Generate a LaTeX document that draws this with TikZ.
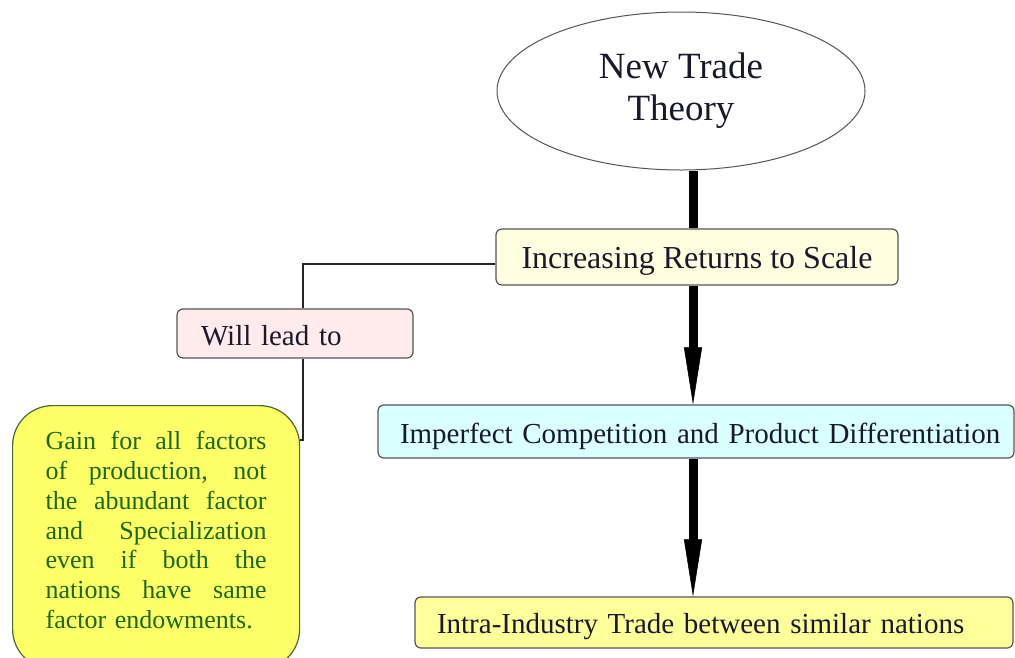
\documentclass[tikz,border=0pt]{standalone}
\usepackage{fontspec}
\setmainfont{Liberation Serif}
\usetikzlibrary{shapes.geometric,arrows.meta,calc}
\definecolor{incfill}{RGB}{255,255,224}
\definecolor{impfill}{RGB}{217,255,255}
\definecolor{willfill}{RGB}{255,235,235}
\definecolor{intrafill}{RGB}{255,255,153}
\definecolor{gainfill}{RGB}{255,255,102}
\definecolor{gaintext}{RGB}{25,105,25}
\definecolor{gainborder}{RGB}{75,105,55}
\definecolor{edge}{RGB}{85,85,85}
\definecolor{ink}{RGB}{25,25,45}
\newcommand\jl[1]{\leavevmode\hbox to 221pt{\spaceskip=0pt\xspaceskip=0pt\relax #1}}
\begin{document}
\begin{tikzpicture}[x=1pt,y=-1pt,
  ell/.style={ellipse,draw=edge,line width=1pt,fill=white,inner sep=0pt,
    minimum width=368pt,minimum height=158pt,align=center,text=ink,
    font=\fontsize{37}{42}\selectfont},
  boxbase/.style={rectangle,rounded corners=6pt,draw=edge,line width=1.2pt,
    text=ink,text depth=0pt},
  leftbox/.style={boxbase,align=left,inner xsep=22pt,inner ysep=0pt},
  gainbox/.style={rectangle,rounded corners=40pt,draw=gainborder,line width=1.2pt,
    fill=gainfill,text=gaintext,text width=221pt,align=left,inner xsep=33pt,
    inner ysep=26pt,font=\fontsize{26}{29.7}\selectfont},
  thick/.style={line width=9pt,draw=black},
  thickarrow/.style={thick,-{Triangle[length=57pt,width=18pt,line width=0.5pt]}},
  thin/.style={line width=1.3pt,draw=black!85}
]
\useasboundingbox (0,0) rectangle (1015,657);
\clip (0,0) rectangle (1015,657);
\fill[white] (0,0) rectangle (1015,657);

\coordinate (xl) at (693,0);
\coordinate (xv) at (303,0);

% nodes
\node[ell] (ntt) at (681,91) {New Trade\\Theory};
\node[boxbase,fill=incfill,minimum width=402pt,minimum height=56pt,inner sep=0pt,
  text height=22pt,font=\fontsize{32}{38}\selectfont] (inc) at (697,257)
  {Increasing Returns to Scale};
\node[leftbox,fill=willfill,text width=188pt,inner xsep=24pt,minimum height=49pt,
  text height=23pt,font=\fontsize{29}{34}\selectfont] (will) at (295,333.5) {Will lead to};
\node[leftbox,fill=impfill,text width=592pt,minimum height=53pt,
  text height=23pt,font=\fontsize{29}{34}\selectfont] (imp) at (696,431.5)
  {\mbox{Imperfect Competition and Product Differentiation}};
\node[leftbox,fill=intrafill,text width=554pt,minimum height=51pt,
  text height=21pt,font=\fontsize{29}{34}\selectfont] (intra) at (714,622.5)
  {\mbox{Intra-Industry Trade between similar nations}};
\node[gainbox,anchor=north west] (gain) at (12,405)
  {\jl{Gain for all factors}\\
   \jl{of production, not}\\
   \jl{the abundant factor}\\
   \jl{and Specialization}\\
   \jl{even if both the}\\
   \jl{nations have same}\\
   factor endowments.\rule[-15pt]{0pt}{1pt}};

% thick connectors
\draw[thick] (ntt.south -| xl) -- (inc.north -| xl);
\draw[thickarrow] (inc.south -| xl) -- (imp.north -| xl);
\draw[thickarrow] (imp.south -| xl) -- (intra.north -| xl);

% thin elbow connectors
\draw[thin] ([yshift=-7pt]inc.west) -| (will.north -| xv);
\draw[thin] (will.south -| xv) |- ([yshift=-35pt]gain.north east);
\end{tikzpicture}
\end{document}
